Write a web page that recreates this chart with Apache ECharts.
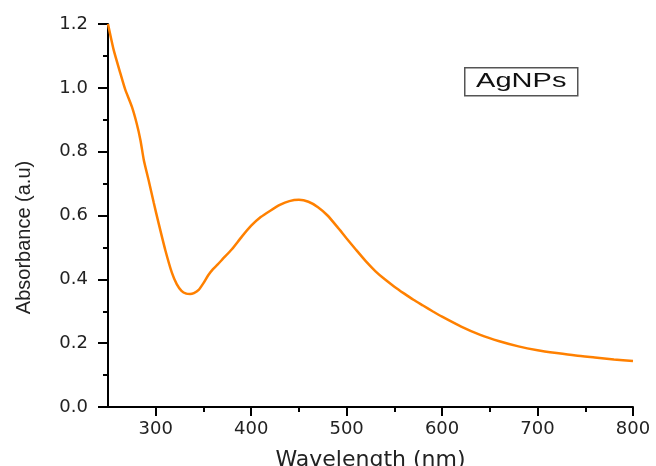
<!DOCTYPE html>
<html>
<head>
<meta charset="utf-8">
<script src="https://cdn.jsdelivr.net/npm/echarts@6/dist/echarts.min.js"></script>
<style>
html,body{margin:0;padding:0;background:#fff;}
#chart{width:656px;height:466px;}
</style>
</head>
<body>
<div id="chart"></div>
<script>
const wavelength = [250, 256, 263, 268, 275, 280, 284, 287.5, 292.5, 298, 303, 310, 317, 322, 327, 332, 336, 340, 345, 350, 355, 360, 365, 370, 380, 390, 400, 410, 420, 430, 440, 450, 460, 470, 480, 490, 500, 510, 520, 530, 540, 550, 560, 570, 580, 590, 600, 620, 640, 660, 680, 700, 720, 740, 760, 780, 800];
const absorbance = [1.20, 1.118, 1.045, 0.995, 0.941, 0.889, 0.836, 0.774, 0.711, 0.639, 0.576, 0.492, 0.420, 0.385, 0.364, 0.355, 0.354, 0.357, 0.367, 0.388, 0.413, 0.432, 0.447, 0.463, 0.495, 0.533, 0.568, 0.595, 0.615, 0.633, 0.645, 0.649, 0.643, 0.626, 0.600, 0.565, 0.528, 0.492, 0.457, 0.426, 0.400, 0.377, 0.356, 0.336, 0.318, 0.300, 0.283, 0.252, 0.226, 0.206, 0.190, 0.178, 0.169, 0.161, 0.155, 0.149, 0.144];
const xMajorTicks = [300, 400, 500, 600, 700, 800];
const xMinorTicks = [350, 450, 550, 650, 750];
const seriesName = 'AgNPs';
const xTitle = 'Wavelength (nm)';
const yTitle = 'Absorbance (a.u)';

const chart = echarts.init(document.getElementById('chart'), null, {renderer: 'canvas'});
const tickFont = {fontFamily: 'DejaVu Sans', fontSize: 18, color: '#222'};
chart.setOption({
  animation: false,
  backgroundColor: '#fff',
  grid: {left: 108, right: 23, top: 24, bottom: 59, containLabel: false, outerBoundsMode: 'none'},
  xAxis: [{
    type: 'value', min: 250, max: 800, position: 'bottom',
    name: xTitle, nameLocation: 'middle', nameGap: 42,
    nameTextStyle: {fontFamily: 'DejaVu Sans', fontSize: 22, color: '#222'},
    axisLine: {show: true, onZero: false, lineStyle: {color: '#000', width: 2}},
    axisTick: {show: true, inside: false, length: 9, customValues: xMajorTicks, lineStyle: {color: '#000', width: 2}},
    axisLabel: Object.assign({margin: 13, customValues: xMajorTicks}, tickFont),
    splitLine: {show: false}
  }, {
    type: 'value', min: 250, max: 800, position: 'bottom', offset: 0,
    axisLine: {show: false},
    axisTick: {show: true, inside: false, length: 5, customValues: xMinorTicks, lineStyle: {color: '#000', width: 2}},
    axisLabel: {show: false},
    splitLine: {show: false}
  }],
  yAxis: {
    type: 'value', min: 0, max: 1.2, interval: 0.2,
    name: yTitle, nameLocation: 'middle', nameGap: 74, nameRotate: 90,
    nameTextStyle: {fontFamily: 'Liberation Sans', fontSize: 20, color: '#222', padding: [0, 44, 0, 0]},
    axisLine: {show: true, onZero: false, lineStyle: {color: '#000', width: 2}},
    axisTick: {show: true, inside: false, length: 10, lineStyle: {color: '#000', width: 2}},
    minorTick: {show: true, splitNumber: 2, length: 5, lineStyle: {color: '#000', width: 2}},
    axisLabel: Object.assign({margin: 20, formatter: v => v.toFixed(1)}, tickFont),
    splitLine: {show: false}
  },
  graphic: [{
    type: 'group', left: 464, top: 67,
    children: [
      {type: 'rect', shape: {x: 0, y: 0, width: 113, height: 28}, style: {fill: '#fff', stroke: '#555', lineWidth: 1.5}},
      {type: 'text', x: 56.5, y: 14, scaleX: 1.45, style: {text: seriesName, font: '20px "Liberation Sans"', fill: '#111', align: 'center', verticalAlign: 'middle'}}
    ]
  }],
  series: [{
    name: seriesName, type: 'line', xAxisIndex: 0,
    data: wavelength.map((w, i) => [w, absorbance[i]]),
    showSymbol: false, smooth: 0.2,
    lineStyle: {color: '#ff8000', width: 2.5}
  }]
});
</script>
</body>
</html>
